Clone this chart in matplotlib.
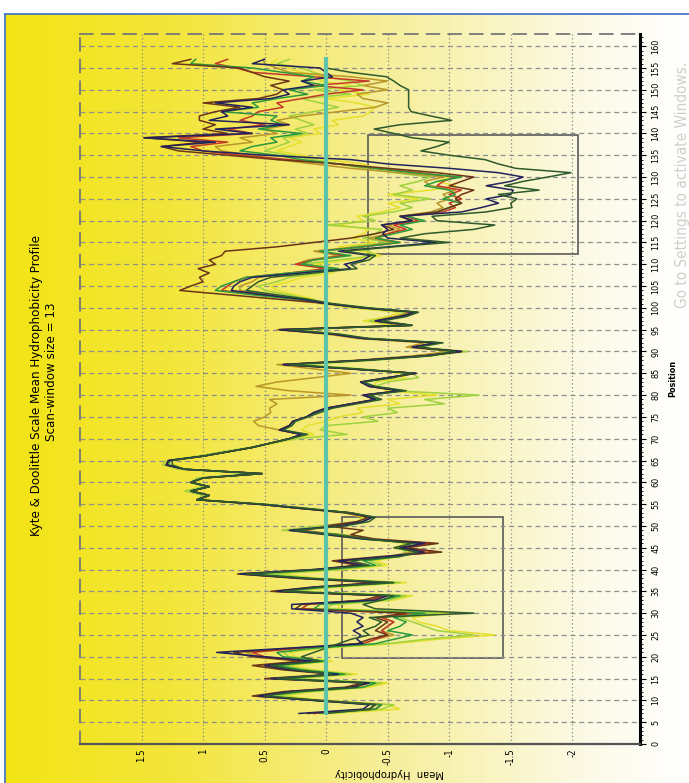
import numpy as np
import matplotlib
matplotlib.use('Agg')
import matplotlib.pyplot as plt
from matplotlib.colors import LinearSegmentedColormap
from matplotlib.lines import Line2D
from matplotlib.patches import Rectangle

# scan-window centres (window = 13)
positions = list(range(7, 158))

navy = [0.22, -0.30, -0.35, 0.10, 0.55, 0.30, -0.20, -0.35, 0.45, -0.10,
        0.30, 0.50, 0.10, 0.50, 0.89, 0.30, -0.30, -0.25, -0.28, -0.22,
        -0.30, -0.25, -0.30, -0.20, 0.28, 0.28, -0.40, -0.50, 0.40, 0.10,
        -0.50, 0.20, 0.70, 0.10, -0.30, -0.10, -0.50, -0.80, -0.60, -0.80,
        -0.30, 0.00, 0.30, -0.10, -0.30, -0.38, -0.20, 0.20, 0.55, 1.05,
        0.95, 1.10, 0.95, 1.10, 1.00, 0.52, 1.15, 1.30, 1.28, 1.00,
        0.80, 0.60, 0.45, 0.30, 0.20, 0.38, 0.30, 0.27, 0.16, 0.10,
        0.00, -0.20, -0.40, -0.30, -0.60, -0.35, -0.28, -0.50, -0.73, -0.20,
        0.35, -0.30, -0.80, -1.10, -0.70, -0.90, -0.30, -0.05, 0.38, -0.69,
        -0.40, -0.60, -0.73, -0.30, 0.00, 0.20, 0.50, 0.77, 0.75, 0.70,
        0.60, 0.20, -0.20, -0.15, -0.30, -0.36, -0.10, -0.50, -0.90, -0.50,
        -0.46, -0.50, -0.45, -0.70, -0.60, -1.10, -1.26, -1.40, -1.30, -1.50,
        -1.52, -1.30, -1.50, -1.60, -1.40, -1.00, -0.50, -0.20, 0.50, 1.00,
        1.34, 0.90, 1.48, 0.60, 0.90, 0.30, 0.95, 0.80, 0.85, 0.60,
        0.90, 0.45, 0.30, 0.35, 0.10, 0.20, -0.05, 0.00, 0.05, 0.60,
        0.50]

dark_green = [0.00, -0.35, -0.40, 0.05, 0.50, 0.25, -0.25, -0.30, 0.40, -0.05,
              0.25, 0.45, 0.05, 0.20, 0.10, 0.00, -0.10, -0.20, -0.35, -0.30,
              -0.40, -0.45, -0.35, -1.20, -0.40, -0.30, -0.45, -0.55, 0.35, 0.05,
              -0.55, 0.15, 0.65, 0.05, -0.35, -0.20, -0.60, -0.75, -0.55, -0.70,
              -0.35, -0.05, 0.25, -0.15, -0.35, -0.40, -0.20, 0.15, 0.50, 1.05,
              0.95, 1.10, 0.95, 1.10, 1.00, 0.52, 1.15, 1.25, 1.25, 1.00,
              0.80, 0.60, 0.45, 0.30, 0.15, 0.35, 0.28, 0.25, 0.15, 0.05,
              -0.05, -0.25, -0.45, -0.35, -0.65, -0.40, -0.30, -0.55, -0.70, -0.25,
              0.30, -0.35, -0.85, -1.05, -0.75, -0.95, -0.35, -0.10, 0.30, -0.70,
              -0.45, -0.65, -0.75, -0.35, -0.05, 0.15, 0.40, 0.65, 0.60, 0.55,
              0.45, 0.10, -0.25, -0.20, -0.35, -0.40, -0.15, -0.55, -1.00, -0.60,
              -0.80, -1.20, -1.37, -0.90, -0.86, -1.30, -1.51, -1.50, -1.55, -1.40,
              -1.73, -1.45, -1.60, -1.80, -1.99, -1.54, -1.40, -1.29, -1.00, -0.77,
              -0.90, -1.00, -0.70, -0.55, -0.39, -0.60, -1.02, -0.85, -0.69, -0.67,
              -0.67, -0.67, -0.67, -0.67, -0.60, -0.55, -0.49, -0.20, 0.00, 0.00,
              0.00]

green = [0.05, -0.40, -0.45, 0.10, 0.50, 0.20, -0.30, -0.40, 0.35, -0.15,
         0.20, 0.40, 0.00, 0.35, 0.40, 0.10, -0.40, -0.55, -0.70, -0.50,
         -0.60, -0.65, -0.55, -0.80, 0.10, 0.05, -0.45, -0.60, 0.35, 0.00,
         -0.55, 0.15, 0.60, 0.00, -0.40, -0.30, -0.60, -0.75, -0.65, -0.75,
         -0.30, -0.10, 0.25, -0.10, -0.30, -0.35, -0.20, 0.15, 0.55, 1.05,
         0.95, 1.10, 0.95, 1.10, 1.00, 0.55, 1.15, 1.28, 1.27, 1.00,
         0.80, 0.60, 0.45, 0.30, 0.18, 0.36, 0.28, 0.25, 0.15, 0.08,
         -0.02, -0.22, -0.42, -0.33, -0.62, -0.38, -0.30, -0.52, -0.70, -0.22,
         0.33, -0.32, -0.82, -1.05, -0.72, -0.92, -0.32, -0.08, 0.35, -0.70,
         -0.42, -0.62, -0.74, -0.32, -0.02, 0.25, 0.60, 0.90, 0.85, 0.75,
         0.65, 0.30, -0.10, 0.20, 0.10, -0.20, 0.05, -0.30, -0.60, -0.40,
         -0.55, -0.70, -0.60, -0.80, -0.65, -0.90, -1.00, -1.10, -0.95, -1.05,
         -1.00, -0.80, -0.90, -1.10, -0.70, -0.40, -0.10, 0.20, 0.40, 0.70,
         0.60, 0.40, 0.45, 0.20, 0.55, 0.35, 0.45, 0.40, 0.85, 0.55,
         0.60, 0.40, 0.15, 0.30, 0.00, 0.20, 0.10, 0.35, 0.60, 1.10,
         1.06]

light_green = [0.00, -0.45, -0.55, 0.05, 0.40, 0.15, -0.30, -0.45, 0.30, -0.20,
               0.15, 0.35, 0.00, 0.30, 0.35, 0.05, -0.50, -0.80, -1.20, -0.90,
               -0.80, -0.70, -0.60, -0.90, 0.00, -0.05, -0.50, -0.65, 0.30, -0.05,
               -0.60, 0.10, 0.45, -0.10, -0.45, -0.35, -0.55, -0.65, -0.60, -0.70,
               -0.35, -0.15, 0.36, 0.05, -0.25, -0.35, -0.20, 0.20, 0.55, 1.05,
               1.00, 1.15, 1.00, 1.10, 1.05, 0.60, 1.20, 1.33, 1.30, 1.05,
               0.85, 0.62, 0.45, 0.25, -0.17, 0.05, 0.00, -0.42, -0.30, -0.58,
               -0.50, -0.96, -0.80, -1.24, -0.55, -0.40, -0.50, -0.75, -0.70, -0.30,
               0.20, -0.40, -0.85, -1.15, -0.75, -0.85, -0.25, -0.10, 0.30, -0.60,
               -0.35, -0.55, -0.65, -0.25, 0.05, 0.15, 0.30, 0.50, 0.55, 0.40,
               0.30, 0.05, 0.00, 0.20, -0.10, -0.40, -0.35, -0.20, -0.50, -0.30,
               -0.40, -0.45, 0.00, -0.40, -0.30, -0.55, -0.70, -0.60, -0.85, -0.55,
               -0.70, -0.60, -0.75, -0.85, -0.55, -0.30, -0.10, 0.10, 0.30, 0.50,
               0.40, 0.30, 0.35, 0.15, 0.25, 0.10, 0.20, 0.30, 0.10, -0.10,
               0.05, 0.20, -0.20, 0.10, -0.30, -0.20, 0.00, 0.10, 0.20, 0.40,
               0.30]

yellow = [-0.05, -0.60, -0.50, 0.00, 0.35, 0.10, -0.35, -0.50, 0.25, -0.25,
          0.10, 0.30, -0.05, 0.25, 0.30, 0.00, -0.55, -0.90, -1.37, -1.00,
          -0.90, -0.75, -0.70, -1.00, -0.10, -0.10, -0.55, -0.70, 0.25, -0.10,
          -0.65, 0.05, 0.40, -0.15, -0.50, -0.40, -0.60, -0.70, -0.55, -0.65,
          -0.30, -0.15, 0.30, 0.00, -0.25, -0.30, -0.15, 0.20, 0.55, 1.00,
          0.95, 1.10, 0.95, 1.05, 1.00, 0.55, 1.15, 1.30, 1.28, 1.00,
          0.80, 0.60, 0.40, 0.25, 0.10, 0.20, 0.15, 0.00, -0.10, -0.30,
          -0.25, -0.60, -0.50, -0.90, -0.50, -0.40, -0.40, -0.65, -0.60, -0.25,
          0.25, -0.35, -0.75, -1.00, -0.70, -0.80, -0.30, -0.10, 0.25, -0.55,
          -0.30, -0.50, -0.60, -0.20, 0.05, 0.10, 0.25, 0.40, 0.45, 0.30,
          0.20, -0.05, -0.10, 0.10, -0.20, -0.45, -0.30, -0.10, -0.40, -0.20,
          -0.30, -0.35, -0.10, -0.30, -0.25, -0.45, -0.60, -0.50, -0.75, -0.50,
          -0.85, -1.05, -0.90, -1.00, -0.80, -0.40, -0.30, 0.00, 0.20, 0.40,
          0.30, 0.20, 0.30, 0.05, 0.10, -0.10, -0.05, -0.30, -0.36, -0.40,
          -0.25, 0.00, -0.35, -0.10, -0.20, 0.05, 0.00, 0.20, 0.30, 0.45,
          0.40]

gold = [0.10, -0.40, -0.45, 0.10, 0.55, 0.30, -0.25, -0.35, 0.45, -0.10,
        0.30, 0.55, 0.15, 0.55, 0.65, 0.20, -0.30, -0.40, -0.55, -0.45,
        -0.50, -0.55, -0.45, -0.70, 0.20, 0.15, -0.35, -0.50, 0.40, 0.05,
        -0.45, 0.20, 0.65, 0.05, -0.30, -0.15, -0.50, -0.70, -0.60, -0.80,
        -0.30, 0.00, 0.30, -0.10, -0.30, -0.35, -0.20, 0.20, 0.55, 1.05,
        0.95, 1.10, 0.95, 1.10, 1.00, 0.52, 1.15, 1.30, 1.28, 1.00,
        0.80, 0.60, 0.45, 0.30, 0.20, 0.38, 0.55, 0.59, 0.50, 0.45,
        0.46, 0.40, 0.46, -0.20, 0.30, 0.57, 0.40, 0.09, -0.20, 0.10,
        0.40, -0.25, -0.70, -1.00, -0.65, -0.80, -0.25, 0.00, 0.40, -0.60,
        -0.40, -0.55, -0.70, -0.30, 0.00, 0.20, 0.45, 0.70, 0.70, 0.60,
        0.55, 0.25, -0.05, 0.25, 0.15, -0.10, 0.10, -0.25, -0.55, -0.35,
        -0.50, -0.60, -0.50, -0.70, -0.60, -0.85, -0.95, -0.90, -1.00, -0.95,
        -1.05, -0.85, -0.80, -0.95, -0.60, -0.20, 0.10, 0.40, 0.60, 0.85,
        0.90, 0.60, 0.70, 0.40, 0.50, 0.30, 0.40, 0.20, -0.10, -0.40,
        -0.50, -0.30, -0.25, -0.50, -0.30, -0.50, -0.20, 0.30, 0.40, 0.50,
        0.51]

brown = [0.15, -0.35, -0.40, 0.10, 0.60, 0.35, -0.15, -0.30, 0.50, -0.05,
         0.35, 0.60, 0.20, 0.60, 0.75, 0.25, -0.25, -0.35, -0.50, -0.40,
         -0.45, -0.50, -0.40, -0.65, 0.25, 0.20, -0.30, -0.45, 0.45, 0.10,
         -0.40, 0.25, 0.72, 0.10, -0.25, -0.05, -0.45, -0.94, -0.65, -0.91,
         -0.40, -0.20, -0.30, 0.00, -0.25, -0.35, -0.15, 0.20, 0.55, 1.05,
         0.95, 1.10, 0.95, 1.10, 1.00, 0.52, 1.15, 1.30, 1.28, 1.00,
         0.80, 0.60, 0.45, 0.30, 0.20, 0.38, 0.30, 0.27, 0.16, 0.10,
         0.00, -0.20, -0.40, -0.30, -0.60, -0.35, -0.28, -0.50, -0.73, -0.20,
         0.35, -0.30, -0.80, -1.10, -0.70, -0.90, -0.30, -0.05, 0.38, -0.69,
         -0.40, -0.60, -0.73, -0.30, 0.00, 0.40, 0.80, 1.19, 1.10, 1.00,
         1.03, 0.95, 1.04, 0.90, 0.95, 0.85, 0.82, 0.40, 0.10, -0.20,
         -0.40, -0.55, -0.45, -0.70, -0.60, -0.90, -1.00, -1.10, -1.05, -1.10,
         -1.20, -1.00, -1.10, -1.20, -0.90, -0.50, -0.10, 0.40, 0.80, 1.20,
         1.34, 1.00, 1.48, 0.80, 1.00, 0.90, 1.03, 1.03, 0.90, 0.70,
         1.00, 0.55, 0.40, 0.35, 0.45, 0.30, 0.50, 0.60, 0.70, 1.25,
         1.10]

red = [0.10, -0.40, -0.45, 0.05, 0.55, 0.30, -0.20, -0.35, 0.40, -0.10,
       0.30, 0.50, 0.15, 0.50, 0.60, 0.20, -0.30, -0.40, -0.50, -0.45,
       -0.50, -0.55, -0.45, -0.70, 0.20, 0.15, -0.35, -0.50, 0.40, 0.05,
       -0.45, 0.20, 0.70, 0.05, -0.30, -0.10, -0.50, -0.90, -0.60, -0.85,
       -0.35, -0.10, 0.20, -0.05, -0.30, -0.35, -0.20, 0.20, 0.55, 1.05,
       0.95, 1.10, 0.95, 1.10, 1.00, 0.52, 1.15, 1.30, 1.28, 1.00,
       0.80, 0.60, 0.45, 0.30, 0.20, 0.38, 0.30, 0.27, 0.16, 0.10,
       0.00, -0.20, -0.40, -0.30, -0.60, -0.35, -0.28, -0.50, -0.73, -0.20,
       0.35, -0.30, -0.80, -1.10, -0.70, -0.90, -0.30, -0.05, 0.38, -0.69,
       -0.40, -0.60, -0.73, -0.30, 0.00, 0.25, 0.55, 0.85, 0.80, 0.75,
       0.65, 0.30, 0.00, 0.25, 0.10, -0.15, 0.05, -0.30, -0.60, -0.40,
       -0.50, -0.65, -0.55, -0.75, -0.65, -0.95, -1.05, -1.00, -1.10, -1.00,
       -1.10, -0.90, -0.95, -1.05, -0.75, -0.40, -0.10, 0.30, 0.70, 1.00,
       1.10, 0.80, 1.20, 0.60, 0.80, 0.50, 0.70, 0.60, 0.55, 0.35,
       0.40, 0.20, 0.00, -0.30, 0.10, -0.35, 0.10, 0.60, 0.73, 0.90,
       0.80]

zero_line = [0.0] * len(positions)

series = [yellow, light_green, gold, red, green, brown, navy, dark_green]
colors = ['#e4e02c', '#9fd23e', '#b8962a', '#c4392a', '#2b9a3c', '#6b3518', '#22225c', '#2f5a2c']

hydro_ticks = [1.5, 1, 0.5, 0, -0.5, -1, -1.5, -2]
hydro_labels = ['1.5', '1', '0.5', '0', '-0.5', '-1', '-1.5', '-2']
pos_ticks = list(range(0, 161, 5))

fnt = dict(family='DejaVu Sans', stretch='condensed')

W, H = 689, 783
fig = plt.figure(figsize=(W / 100, H / 100), dpi=100)
fig.patch.set_facecolor('white')

# yellow -> white background
bg = fig.add_axes([0, 0, 1, 1], zorder=-10)
cmap = LinearSegmentedColormap.from_list('yw', [(0, '#f2e414'), (0.25, '#f3e63c'),
                                                (0.55, '#f6ee98'), (0.85, '#fcfae6'),
                                                (1, '#ffffff')])
grad = np.linspace(0, 1, 256).reshape(1, -1)
bg.imshow(grad, extent=[5 / W, 1, 0, 1 - 14 / H], aspect='auto', cmap=cmap)
bg.set_xlim(0, 1)
bg.set_ylim(0, 1)
bg.axis('off')
fig.add_artist(Line2D([5 / W, 5 / W], [0, 1 - 14 / H], color='#3b6cc6', lw=1.2))
fig.add_artist(Line2D([5 / W, 1], [1 - 14 / H, 1 - 14 / H], color='#3b6cc6', lw=1.2))

ax = fig.add_axes([80 / W, 39 / H, 560 / W, 710 / H])
ax.set_facecolor('none')

for s, c in zip(series, colors):
    ax.plot(s, positions, color=c, lw=1.1)
ax.plot(zero_line, positions, color='#5cc4aa', lw=3)

ax.add_patch(Rectangle((-1.44, 19.8), 1.31, 32.3, fill=False, ec='#5a5a5a', lw=1.2))
ax.add_patch(Rectangle((-2.05, 112.3), 1.71, 27.4, fill=False, ec='#5a5a5a', lw=1.2))

ax.set_xlim(2.0, -2.55)
ax.set_ylim(0, 162.8)

ax.set_xticks(hydro_ticks)
ax.set_xticklabels(hydro_labels, rotation=90, fontsize=7, **fnt)
ax.tick_params(axis='x', length=0, pad=3)
ax.yaxis.tick_right()
ax.set_yticks(pos_ticks)
ax.set_yticks(range(0, 163), minor=True)
ax.set_yticklabels([str(p) for p in pos_ticks], rotation=90, fontsize=6.5, va='center', **fnt)
ax.tick_params(axis='y', which='major', direction='out', length=4, width=0.8, pad=4)
ax.tick_params(axis='y', which='minor', direction='out', length=2, width=0.6)

ax.grid(axis='x', linestyle=(0, (1, 2)), color='#8a8a80', lw=0.9)
ax.grid(axis='y', linestyle=(0, (4, 3)), color='#8f8f8f', lw=0.9)

for side in ['top', 'left']:
    ax.spines[side].set_linestyle((0, (7, 5)))
    ax.spines[side].set_color('#777777')
    ax.spines[side].set_linewidth(1.3)
ax.spines['right'].set_color('black')
ax.spines['right'].set_linewidth(2.2)
ax.spines['bottom'].set_color('#555555')
ax.spines['bottom'].set_linewidth(1.6)

fig.text(37 / W, 1 - 385 / H, 'Kyte & Doolittle Scale Mean Hydrophobicity Profile',
         rotation=90, ha='center', va='center', fontsize=9.5, **fnt)
fig.text(52 / W, 1 - 372 / H, 'Scan-window size = 13',
         rotation=90, ha='center', va='center', fontsize=9.5, **fnt)
fig.text(673 / W, 1 - 378 / H, 'Position', rotation=90, ha='center', va='center',
         fontsize=6.5, weight='bold', **fnt)
fig.text(390 / W, 1 - 773 / H, 'Mean  Hydrophobicity', rotation=180, ha='center', va='center',
         fontsize=8, **fnt)
fig.text(683 / W, 1 - 185 / H, 'Go to Settings to activate Windows.', rotation=90,
         ha='center', va='center', fontsize=11, color='#cfcfca', **fnt)

fig.savefig('out.png', dpi=100)
